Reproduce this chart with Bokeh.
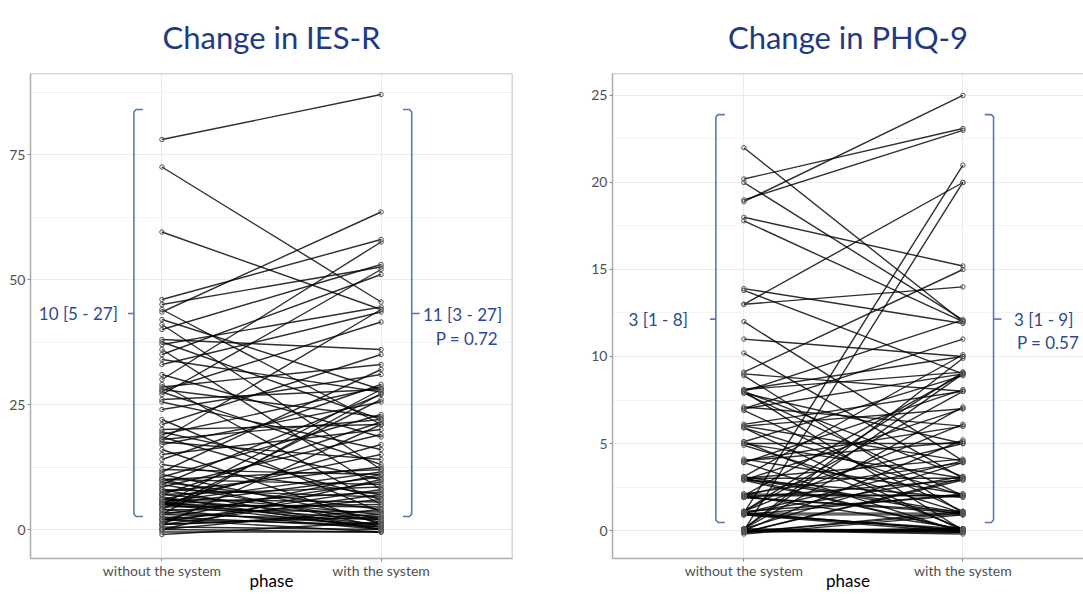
from bokeh.plotting import figure
from bokeh.models import Range1d, FixedTicker, Label, Span
from bokeh.layouts import row
from bokeh.embed import file_html
from bokeh.resources import INLINE

phases = ["without the system", "with the system"]

# IES-R scores (paired: index i is the same participant)
ies_without = [78, 72.5, 59.5, 46, 45, 44, 43.5, 42, 41, 40, 38, 37.5, 37, 36, 35, 34, 33, 31, 30, 29, 28.5, 28, 27.8, 27.5,
               27, 26, 25.5, 24, 22, 21, 20, 19.5, 19, 18.5, 18, 18, 17.5, 17, 16, 15, 14, 13, 12, 11.5, 11, 10.5, 10, 10,
               10, 9.5, 9, 9, 8.5, 8, 8, 7.5, 7, 7, 7, 6.5, 6, 6, 6, 5.5, 5.5, 5, 5, 5, 5, 5, 5, 5,
               4.5, 4, 4, 4, 3.5, 3, 3, 3, 2.5, 2, 2, 2, 2, 1.5, 1, 1, 1, 1, 0.5, 0, 0, 0, -0.5, -1]
ies_with = [87, 45.5, 44, 58, 52.5, 21, 63.5, 28, 12, 53, 36, 22, 44.5, 8, 51, 27.5, 43.5, 18.5, 57.5, 5, 33, 22.5, 41.5, 13,
            52, 28, 16, 31, 3.5, 35, 21, 10, 28.5, 6, 22, 44, 14, 25.5, 1, 20, 29, 7, 11, 32, 2, 23, 9, 0.5,
            12, 4, 27, 1.5, 19, 6.5, 0, 12.5, 21.5, 3, 8.5, 0, 15, 5.5, 2.5, 11.5, 1, 28, 7.5, 0.5, 10.5, 4.5, 2, 17,
            5, 0, 26, 3.5, 1, 9.5, 2, 27.2, 0.5, 6, 11, 1, -0.5, 8, 21, 3, 7, 2.5, 0, 10, -0.5, 4, -0.5, 1.5]

# PHQ-9 scores (paired)
phq_without = [22, 20.2, 20, 19, 18.9, 18, 17.8, 13.9, 13.8, 13, 13, 12, 11, 10.2, 9, 8.9, 9.1, 8, 8, 8.1, 7.9, 8, 8.1, 7.9,
               7, 7.1, 6.9, 7, 6, 6.1, 5.9, 6, 5.9, 5, 5.1, 4.9, 5, 5.1, 4, 4.1, 3.9, 3.9, 4, 3, 3.1, 2.9, 2.9, 3,
               3, 3.1, 2.9, 3, 2, 2.1, 1.9, 2, 2, 1.9, 2.1, 2, 1.9, 1, 1.1, 0.9, 1, 1.1, 0.9, 1, 1, 0.9, 1.1, 1,
               1, 1.1, 0.9, 0, 0.1, -0.1, 0, 0.1, 0, -0.1, 0, 0.1, 0, -0.1, 0, -0.1, 0, 0.1, 0, -0.2, 0, 0.1, -0.1, 0]
phq_with = [12, 23.1, 12.1, 23, 25, 15.2, 12, 11.9, 9, 20, 14, 4, 10, 3, 8, 1, 15, 12.1, 0, 9.1, 5, 3.1, 10, 2,
            9, 6, 1.1, 11, 4, 8, 0, 7, 2, 5, 8.9, 1, 3, 0.1, 6, 2.1, 8.1, -0.1, 5.1, 4.1, 1, 7, 1.9, 0,
            3, 10.1, 0, 0.9, 2, 3.9, 1.1, 9, 0.1, 2.9, 2, 5, 1, 0, 6.1, 2.1, 1, 9.1, -0.1, 3.1, 4, 0.9, 8, 0,
            21, 2, 0.1, 20, 9.9, 1, 0, 9, -0.1, 3, 0, 7.1, 0.1, 1.1, 5.2, 0, -0.2, 3.9, 0, 0.9, 0.1, 0, 2.9, -0.1]

titles = ["Change in IES-R", "Change in PHQ-9"]
left_notes = ["10 [5 - 27]", "3 [1 - 8]"]
right_notes = ["11 [3 - 27]", "3 [1 - 9]"]
p_notes = ["P = 0.72", "P = 0.57"]

ies_ticks = [0, 25, 50, 75]
ies_minor = [12.5, 37.5, 62.5, 87.5]
phq_ticks = [0, 5, 10, 15, 20, 25]
phq_minor = [2.5, 7.5, 12.5, 17.5, 22.5]

# bracket annotation extents (data units): bottom, top, middle
ies_bracket = [2.6, 84.0, 43.2]
phq_bracket = [0.46, 23.9, 12.15]

FONT = "Lato"
TITLE_C = "#1F3A84"
NOTE_C = "#2C4A8C"
BRACKET_C = "#5A78B2"
BORDER_C = "#ADADAD"
GRID_C = "#EBEBEB"
MINOR_C = "#F4F4F4"


def panel(title, before, after, yr, xr_end, ticks, minor, width, mb_left, mb_right,
          brk, ry, lnote, lnote_x, rnote, rnote_x, pnote, pnote_y, note_y, rnote_y, right_border):
    p = figure(width=width, height=594, x_range=Range1d(0.4, xr_end), y_range=Range1d(*yr),
               output_backend="svg", toolbar_location=None,
               min_border_left=mb_left, min_border_right=mb_right, min_border_top=73, min_border_bottom=36)
    p.outline_line_color = None
    p.background_fill_color = "white"
    p.border_fill_color = "white"
    p.title.text = title
    p.title.align = "center"
    p.title.vertical_align = "top"
    p.title.text_font = FONT
    p.title.text_font_size = "31px"
    p.title.text_font_style = "normal"
    p.title.text_color = TITLE_C
    p.title.standoff = 32
    p.title.padding = 0

    p.xaxis.ticker = FixedTicker(ticks=[1, 2])
    p.xaxis.major_label_overrides = {1: phases[0], 2: phases[1]}
    p.yaxis.ticker = FixedTicker(ticks=ticks, minor_ticks=minor)
    p.xgrid.ticker = FixedTicker(ticks=[1, 2])
    p.ygrid.ticker = FixedTicker(ticks=ticks, minor_ticks=minor)
    for ax in (p.xaxis[0], p.yaxis[0]):
        ax.axis_line_color = BORDER_C
        ax.axis_line_width = 1.5
        ax.major_tick_line_color = "#8A8A8A"
        ax.major_tick_out = 3
        ax.major_tick_in = 0
        ax.minor_tick_line_color = None
        ax.major_label_text_font = FONT
        ax.major_label_text_font_size = "14px"
        ax.major_label_text_color = "#505050"
    p.yaxis.major_label_standoff = 1
    p.xaxis.major_label_standoff = 0
    p.xaxis.axis_label = "phase"
    p.xaxis.axis_label_text_font = FONT
    p.xaxis.axis_label_text_font_size = "17px"
    p.xaxis.axis_label_text_font_style = "normal"
    p.xaxis.axis_label_text_color = "black"
    p.xaxis.axis_label_standoff = -12
    p.xgrid.grid_line_color = GRID_C
    p.ygrid.grid_line_color = GRID_C
    p.ygrid.minor_grid_line_color = MINOR_C

    p.add_layout(Span(location=yr[1], dimension="width", line_color=BORDER_C, line_width=1.5))
    if right_border:
        p.add_layout(Span(location=xr_end, dimension="height", line_color=BORDER_C, line_width=1.5))

    xs = [[1, 2] for _ in before]
    ys = [[b, a] for b, a in zip(before, after)]
    p.multi_line(xs, ys, line_color="black", line_alpha=0.82, line_width=1.4)
    p.scatter([1] * len(before) + [2] * len(after), list(before) + list(after),
              size=4.5, marker="circle", fill_color=None, line_color="#555555", line_width=1)

    b0, b1, bm = brk
    lx, lsx, ltx = 0.872, 0.913, 0.845
    rx, rsx, rtx = 2.14, 2.10, 2.176
    for x0, xs_, xt in ((lx, lsx, ltx), (rx, rsx, rtx)):
        d = (xs_ - x0) * 0.25
        p.line([xs_, x0 + d, x0, x0, x0 + d, xs_], [b1, b1, b1 - ry, b0 + ry, b0, b0],
               line_color=BRACKET_C, line_width=1.6)
        p.line([x0, xt], [bm, bm], line_color=BRACKET_C, line_width=1.6)

    p.add_layout(Label(x=lnote_x, y=note_y, text=lnote, text_align="right", text_baseline="middle",
                       text_font=FONT, text_font_size="17px", text_color=NOTE_C))
    p.add_layout(Label(x=rnote_x, y=rnote_y, text=rnote, text_align="center", text_baseline="middle",
                       text_font=FONT, text_font_size="17px", text_color=NOTE_C))
    p.add_layout(Label(x=rnote_x + 0.02, y=pnote_y, text=pnote, text_align="center", text_baseline="middle",
                       text_font=FONT, text_font_size="17px", text_color=NOTE_C))
    return p


p1 = panel(titles[0], ies_without, ies_with, (-5.8, 91.2), 2.6, ies_ticks, ies_minor, 560, 30, 48,
           ies_bracket, 0.5, left_notes[0], 0.799, right_notes[0], 2.372, p_notes[0], 38.2, 43.2, 43.0, True)
p2 = panel(titles[1], phq_without, phq_with, (-1.609, 26.264), 2.5507, phq_ticks, phq_minor, 523, 52, 0,
           phq_bracket, 0.14, left_notes[1], 0.744, right_notes[1], 2.369, p_notes[1], 10.8, 12.13, 12.1, False)

layout = row(p1, p2)
open("out.html", "w").write(file_html(layout, INLINE))
